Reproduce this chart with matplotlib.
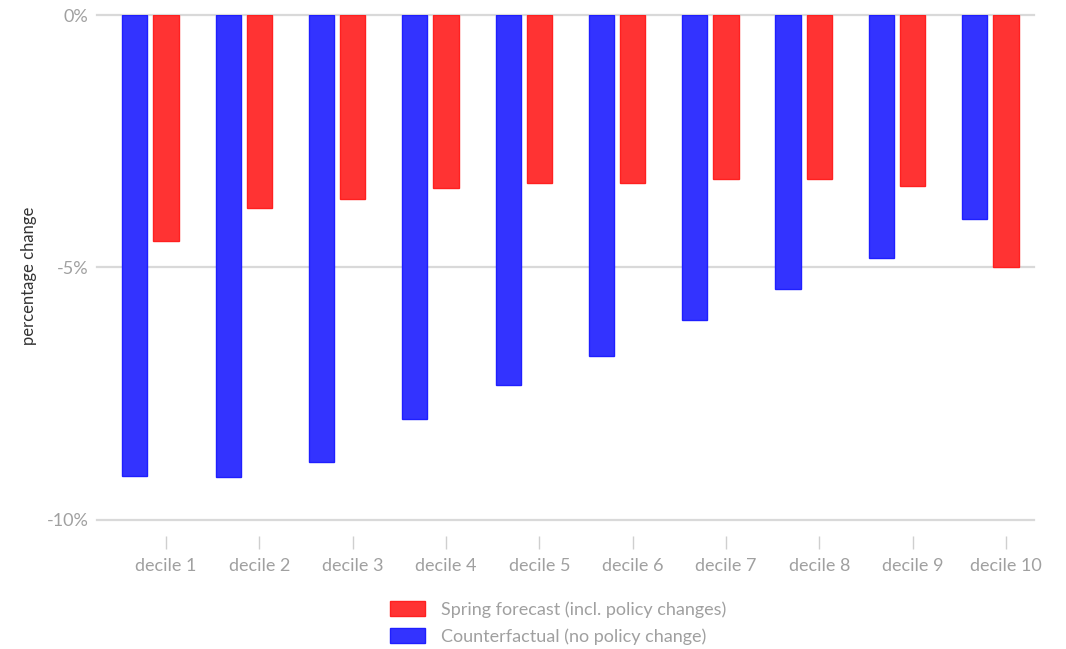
import matplotlib
matplotlib.use("Agg")
import matplotlib.pyplot as plt
from matplotlib.patches import Patch
import numpy as np

deciles = ["decile 1", "decile 2", "decile 3", "decile 4", "decile 5",
           "decile 6", "decile 7", "decile 8", "decile 9", "decile 10"]
spring_forecast = [-4.47, -3.83, -3.64, -3.42, -3.32, -3.32, -3.24, -3.24, -3.38, -5.0]
counterfactual = [-9.13, -9.15, -8.85, -8.0, -7.33, -6.76, -6.05, -5.43, -4.82, -4.05]
yticks = [0, -5, -10]
ytick_labels = ["0%", "-5%", "-10%"]

plt.rcParams["font.family"] = ["Lato", "DejaVu Sans"]

fig = plt.figure(figsize=(10.66, 6.49), dpi=100)
ax = fig.add_axes([97 / 1066, 1 - 536 / 649, (1034 - 97) / 1066, (536 - 15) / 649])

x = np.arange(len(deciles))
w = 0.27
blue_fc, blue_ec = "#3333ff", "#1f1fff"
red_fc, red_ec = "#ff3333", "#ff2020"
ax.bar(x - 0.335, counterfactual, w, color=blue_fc, edgecolor=blue_ec, linewidth=1, zorder=3)
ax.bar(x, spring_forecast, w, color=red_fc, edgecolor=red_ec, linewidth=1, zorder=3)

ax.set_xlim(-0.74, 9.3)
ax.set_ylim(-10.32, 0)
ax.set_yticks(yticks)
ax.set_yticklabels(ytick_labels)
ax.set_xticks(x)
ax.set_xticklabels(deciles)

for y in yticks:
    ax.axhline(y, color="#d9d9d9", linewidth=1.6, zorder=1, clip_on=False)

for s in ax.spines.values():
    s.set_visible(False)

ax.tick_params(axis="y", length=0, pad=6, labelsize=13, labelcolor="#a0a0a0")
ax.tick_params(axis="x", length=9, width=1, color="#cfcfcf", pad=7,
               labelsize=13, labelcolor="#a0a0a0", direction="out")

ax.set_ylabel("percentage change", color="#333333", fontsize=12)
ax.yaxis.set_label_coords(-60 / 937, 0.5)

handles = [Patch(facecolor=red_fc, edgecolor=red_ec, label="Spring forecast (incl. policy changes)"),
           Patch(facecolor=blue_fc, edgecolor=blue_ec, label="Counterfactual (no policy change)")]
leg = fig.legend(handles=handles, loc="center", bbox_to_anchor=(558 / 1066, 1 - 623 / 649),
                 frameon=False, fontsize=13, handlelength=1.95, handleheight=0.9,
                 labelspacing=0.6, handletextpad=0.85)
for t in leg.get_texts():
    t.set_color("#a0a0a0")

fig.savefig("out.png", dpi=100, facecolor="white")
